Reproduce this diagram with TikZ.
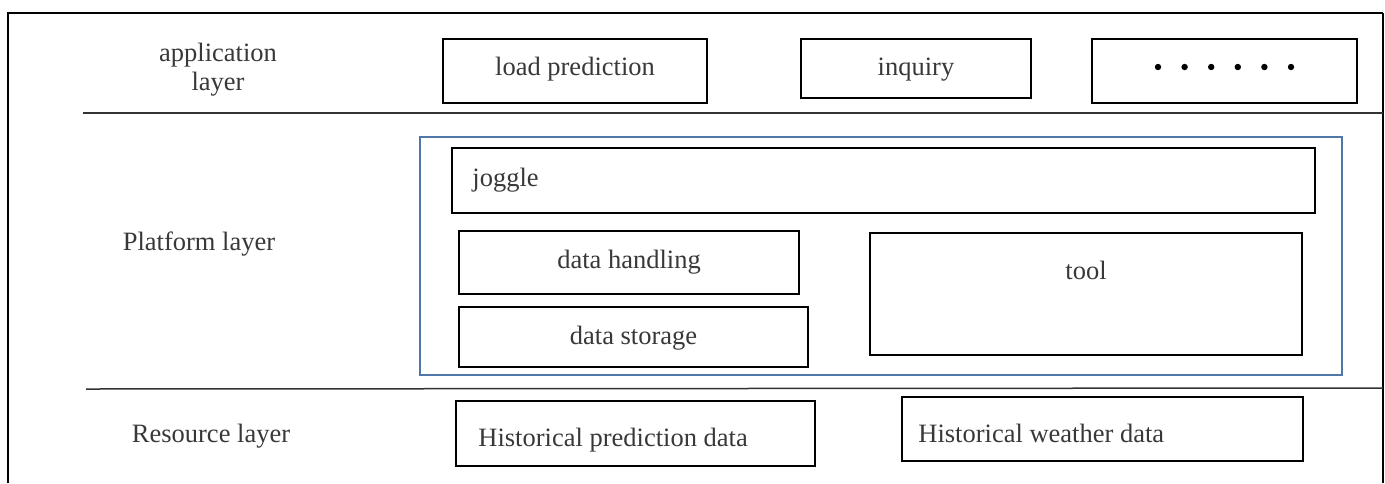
\documentclass[tikz,border=0pt]{standalone}
\usepackage{fontspec}
\setmainfont{Liberation Serif}
\newfontfamily\tnrfont{Liberation Serif}
\begin{document}
\begin{tikzpicture}[x=0.5pt,y=-0.5pt,
  box/.style={draw=black, line width=1.2pt, inner sep=0pt},
  txt/.style={text=black!78, font=\tnrfont\fontsize{13.25}{14.5}\selectfont, inner sep=0pt},
  sep/.style={draw=black!80, line width=0.75pt}
]
\useasboundingbox (0,0) rectangle (1385,483);
\definecolor{frameblue}{HTML}{4F78A8}
% outer frame (open at the bottom)
\coordinate (fbl) at (8,483);
\coordinate (ftl) at (8,13);
\coordinate (ftr) at (1383,13);
\coordinate (fbr) at (1383,483);
\draw[line width=1.25pt] (fbl) -- (ftl) -- (ftr);
\draw[line width=0.6pt] (ftr) -- (fbr);
% separators
\coordinate (s1a) at (83,113);
\coordinate (s1b) at (1383,113);
\coordinate (s2a) at (86,389);
\coordinate (s2b) at (1383,388);
\draw[sep] (s1a) -- (s1b);
\draw[sep] (s2a) -- (s2b);
% layer labels
\node[txt, align=center] (applab) at (218,70) {application\\layer};
\node[txt, anchor=base] (platlab) at (199,250) {Platform layer};
\node[txt, anchor=base] (reslab) at (211,442) {Resource layer};
% application layer
\node[box, minimum width=132pt, minimum height=32pt] (lp) at (575,71) {};
\node[txt, anchor=base] (lpt) at (575,75) {load prediction};
\node[box, minimum width=115pt, minimum height=29.5pt] (inq) at (916,68.5) {};
\node[txt, anchor=base] (inqt) at (916,75) {inquiry};
\node[box, minimum width=132.5pt, minimum height=32pt] (dots) at (1224.5,71) {};
\foreach \i in {0,...,5} {
  \fill (1158+26.6*\i,67) circle (1.6pt);
}
% platform layer
\node[draw=frameblue, line width=1.1pt, inner sep=0pt, minimum width=461pt, minimum height=119pt] (plat) at (881,256) {};
\node[box, minimum width=431.5pt, minimum height=32.5pt] (jog) at (883.5,180.5) {};
\node[txt, anchor=base west] (jogt) at (472,186) {joggle};
\node[box, minimum width=170pt, minimum height=31.5pt] (dh) at (629,262.5) {};
\node[txt, anchor=base] (dht) at (629,268) {data handling};
\node[box, minimum width=174.5pt, minimum height=30pt] (ds) at (633.5,337) {};
\node[txt, anchor=base] (dst) at (633.5,344) {data storage};
\node[box, minimum width=216pt, minimum height=61pt] (tool) at (1086,294) {};
\node[txt, anchor=base] (toolt) at (1086,279) {tool};
% resource layer
\node[box, minimum width=179.5pt, minimum height=32.5pt] (hp) at (635.5,433.5) {};
\node[txt, anchor=base west] (hpt) at (478,446) {Historical prediction data};
\node[box, minimum width=200.5pt, minimum height=32pt] (hw) at (1102.5,429) {};
\node[txt, anchor=base west] (hwt) at (918,442) {Historical weather data};
\end{tikzpicture}
\end{document}
